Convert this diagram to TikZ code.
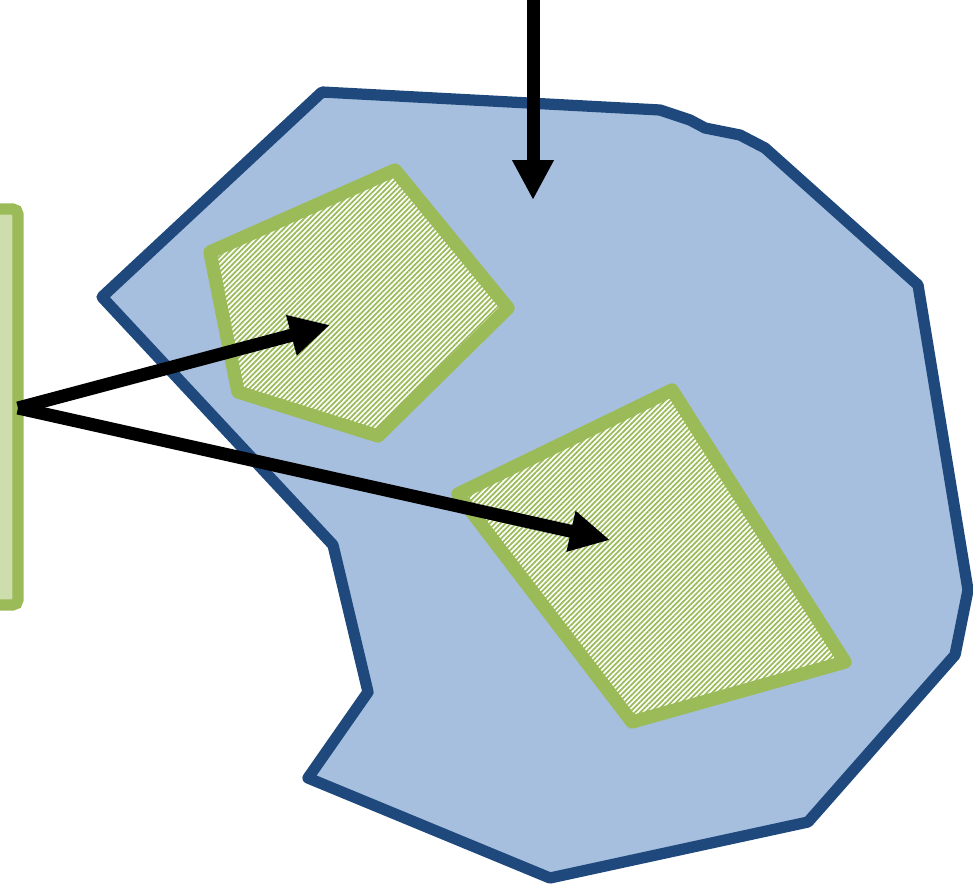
\documentclass[tikz,border=0pt]{standalone}
\usepackage{tikz}
\usetikzlibrary{arrows.meta, patterns.meta, calc}
\definecolor{regionblue}{RGB}{31, 73, 125}
\definecolor{regionfill}{RGB}{167, 191, 222}
\definecolor{patchgreen}{RGB}{155, 187, 89}
\definecolor{patchlight}{RGB}{205, 221, 172}

\tikzset{
  region/.style={line width=6.4pt, regionblue, fill=regionfill, line join=round},
  patch/.style={line width=7.6pt, patchgreen, line join=round,
    preaction={fill=white},
    pattern={Lines[angle=45, distance=2.1pt, line width=1pt]}, pattern color=patchgreen},
  fatarrow/.style={line width=7.4pt, black, -{Triangle[length=0.8cm, width=0.78cm]}}
}

\begin{document}
\begin{tikzpicture}[x=0.02cm, y=-0.02cm]
    \useasboundingbox (0,0) rectangle (973,883);

    % big region
    \draw[region] (322,92) -- (660,110) -- (690,120) -- (705,128) -- (740,135)
      -- (765,148) -- (918,285) -- (968,590) -- (955,655) -- (808,822)
      -- (550,878) -- (308,778) -- (368,692) -- (333,545) -- (102,297) -- cycle;

    % patches inside
    \draw[patch] (395,170) -- (508,308) -- (378,436) -- (238,392) -- (210,252) -- cycle;
    \draw[patch] (672,390) -- (845,662) -- (632,722) -- (458,494) -- cycle;

    % source strip on the left
    \draw[line width=6.4pt, patchgreen, fill=patchlight, rounded corners=3pt]
      (-20,209) rectangle (18,605);

    \coordinate (src) at (18,408);
    \coordinate (top) at (533,-5);
    \coordinate (t0) at (533,200);
    \coordinate (t1) at (330,325);
    \coordinate (t2) at (610,540);

    \draw[fatarrow] (top) -- (t0);
    \draw[fatarrow] (src) -- (t1);
    \draw[fatarrow] (src) -- (t2);
  \end{tikzpicture}
\end{document}
